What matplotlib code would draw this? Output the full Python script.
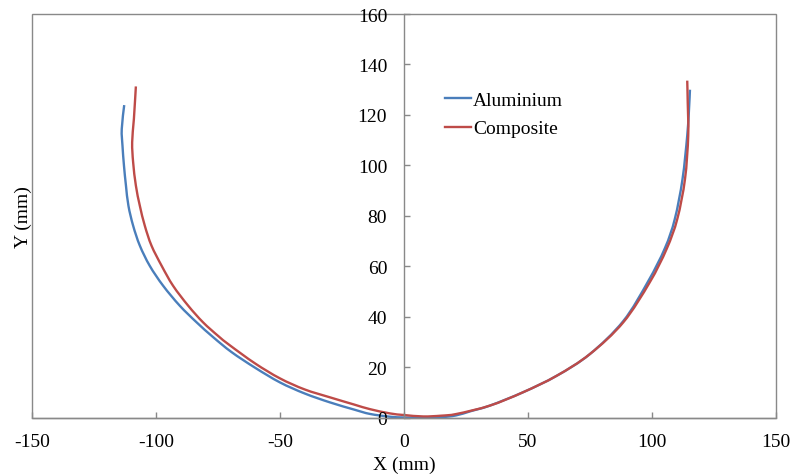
import matplotlib
matplotlib.use("Agg")
import matplotlib.pyplot as plt
from matplotlib.patches import Rectangle, PathPatch
from matplotlib.path import Path
from matplotlib.lines import Line2D

plt.rcParams['font.family'] = ['Liberation Serif', 'DejaVu Serif']
plt.rcParams['axes.unicode_minus'] = False

# Deformed profile coordinates (mm)
alu_x = [-112.8, -113.8, -113.5, -112.9, -112.1, -111.1, -109.2, -106.5, -102.5, -97.1,
         -90.4, -83.6, -76.9, -69.5, -60.0, -50.0, -40.0, -29.9, -20.0, -13.7,
         -5.6, 0.0, 8.0, 15.0, 21.0, 27.0, 34.7, 48.1, 61.6, 75.0,
         88.5, 98.5, 105.3, 109.3, 112.4, 114.3, 115.0, 115.4]
alu_y = [123.9, 114.4, 107.8, 99.9, 92.0, 84.0, 76.1, 68.2, 60.2, 52.3,
         44.4, 37.8, 31.9, 26.0, 19.8, 14.0, 9.6, 6.1, 3.2, 1.5,
         0.4, 0.1, 0.0, 0.2, 0.9, 2.6, 4.8, 10.1, 16.6, 25.2,
         38.3, 54.0, 67.2, 78.8, 94.6, 111.8, 122.0, 130.0]

comp_x = [-108.1, -108.9, -109.6, -109.2, -108.1, -106.5, -104.5, -101.8, -97.7, -93.1,
          -87.0, -81.0, -74.9, -70.2, -60.0, -50.0, -40.0, -29.9, -20.0, -13.7,
          -5.6, 0.0, 7.8, 15.0, 21.3, 34.7, 48.1, 61.6, 75.0, 88.5,
          99.2, 106.0, 110.3, 113.4, 114.7, 114.5, 114.3]
comp_y = [131.3, 118.4, 109.2, 101.2, 92.0, 84.0, 76.1, 68.2, 60.2, 52.3,
          44.4, 37.8, 32.4, 28.7, 21.5, 15.6, 11.2, 8.1, 5.2, 3.4,
          1.7, 1.07, 0.5, 0.8, 1.5, 4.8, 10.1, 16.6, 25.2, 37.8,
          53.7, 66.9, 78.8, 94.6, 111.8, 125.0, 133.6]

series_names = ['Aluminium', 'Composite']
series_colors = ['#4A7EBB', '#BE4B48']

x_ticks = [-150, -100, -50, 0, 50, 100, 150]
y_ticks = [0, 20, 40, 60, 80, 100, 120, 140, 160]


def smooth_path(xs, ys):
    """Smoothed-line path through every data point (cubic Bezier segments)."""
    pts = list(zip(xs, ys))
    n = len(pts)
    verts = [pts[0]]
    codes = [Path.MOVETO]
    for i in range(n - 1):
        p0 = pts[i - 1] if i > 0 else pts[i]
        p1 = pts[i]
        p2 = pts[i + 1]
        p3 = pts[i + 2] if i + 2 < n else pts[i + 1]
        c1 = (p1[0] + (p2[0] - p0[0]) / 6.0, p1[1] + (p2[1] - p0[1]) / 6.0)
        c2 = (p2[0] - (p3[0] - p1[0]) / 6.0, p2[1] - (p3[1] - p1[1]) / 6.0)
        verts += [c1, c2, p2]
        codes += [Path.CURVE4] * 3
    return Path(verts, codes)


fig = plt.figure(figsize=(7.94, 4.77), dpi=100)
ax = fig.add_axes([0.0403, 0.1222, 0.9367, 0.8463])

handles = []
for xs, ys, name, col in [(alu_x, alu_y, series_names[0], series_colors[0]),
                          (comp_x, comp_y, series_names[1], series_colors[1])]:
    ax.add_patch(PathPatch(smooth_path(xs, ys), facecolor='none', edgecolor=col,
                           lw=1.7, capstyle='butt', joinstyle='round'))
    handles.append(Line2D([], [], color=col, lw=1.7, label=name))

ax.set_xlim(-150, 150)
ax.set_ylim(0, 160)
ax.set_xticks(x_ticks)
ax.set_yticks(y_ticks)

spine_col = '#898989'
for s in ['top', 'right']:
    ax.spines[s].set_visible(False)
ax.spines['left'].set_position(('data', 0))
ax.spines['left'].set_color(spine_col)
ax.spines['bottom'].set_color(spine_col)
ax.spines['left'].set_linewidth(1.0)
ax.spines['bottom'].set_linewidth(1.0)
ax.add_patch(Rectangle((0, 0), 1, 1, transform=ax.transAxes, fill=False,
                       edgecolor=spine_col, lw=1.0, clip_on=False, zorder=0))

ax.tick_params(axis='both', direction='in', length=4, width=1.0, color=spine_col,
               labelsize=14, labelcolor='black')
ax.tick_params(axis='y', pad=12)
ax.tick_params(axis='x', pad=11)

ax.set_xlabel('X (mm)', fontsize=14, labelpad=4)
ax.set_ylabel('Y (mm)', fontsize=14)
ax.yaxis.set_label_coords(0.0, 0.5)

ax.legend(handles=handles, loc='upper left', bbox_to_anchor=(0.555, 0.808),
          frameon=False, fontsize=14, handlelength=1.35, handletextpad=0.1,
          borderpad=0, borderaxespad=0, labelspacing=0.55)

fig.savefig('out.png', dpi=100)
